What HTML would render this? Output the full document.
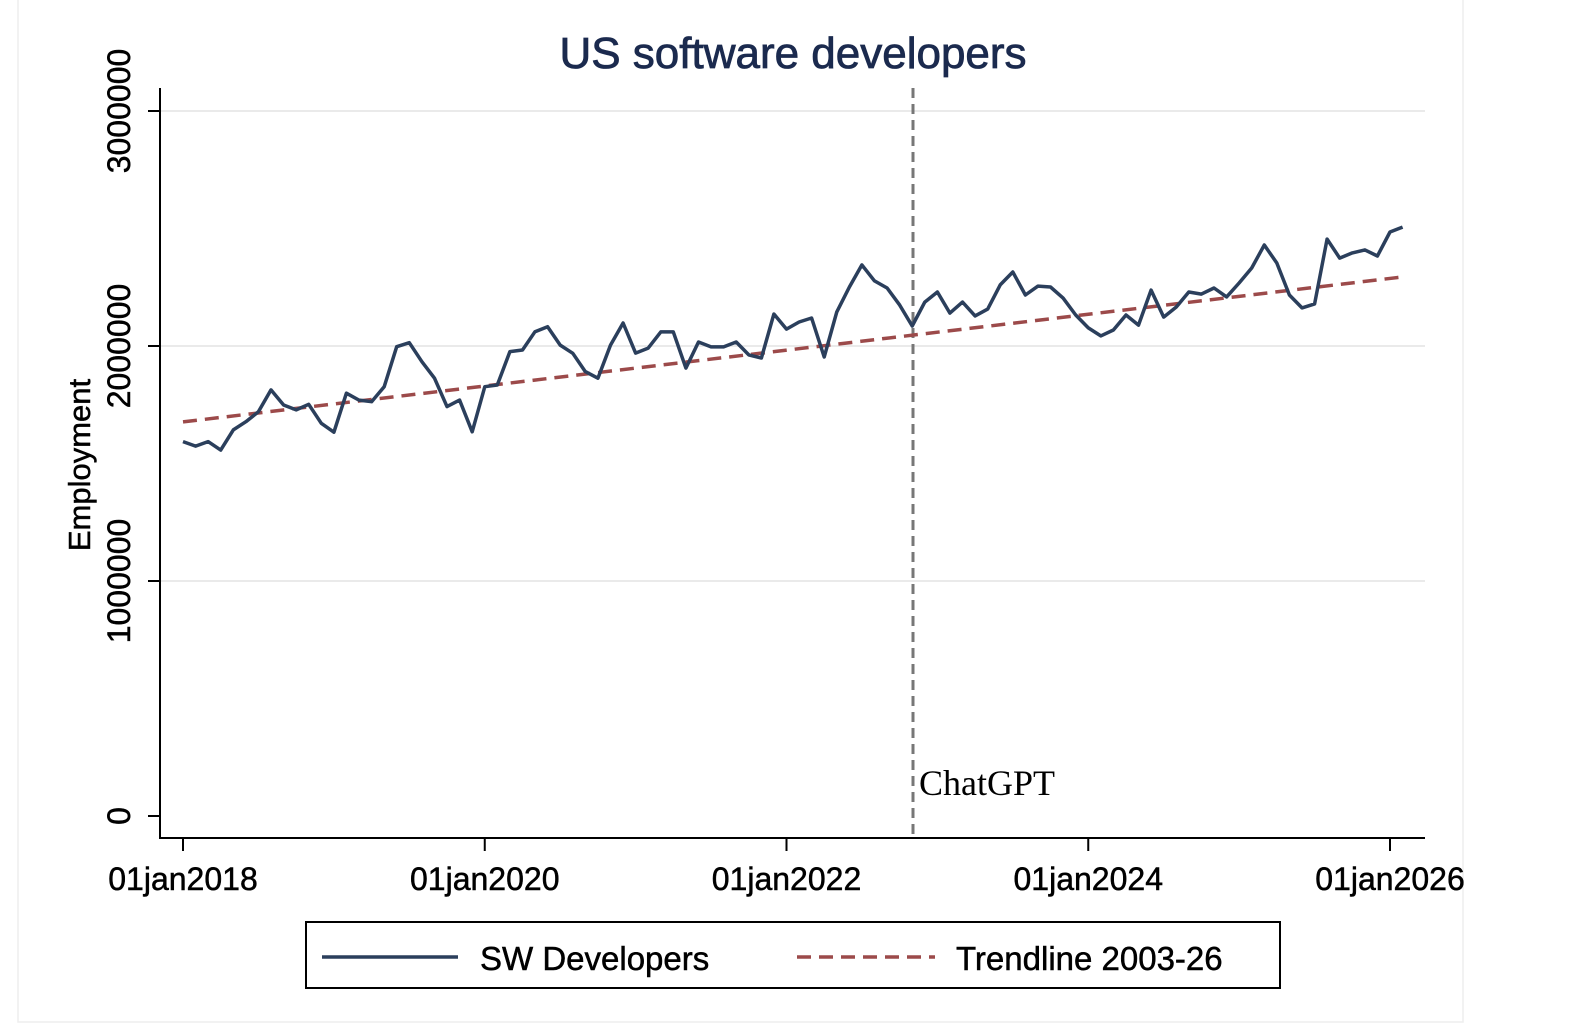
<!DOCTYPE html>
<html><head><meta charset="utf-8"><style>
html,body{margin:0;padding:0;background:#fff;}
svg{display:block;font-family:"Liberation Sans",sans-serif;}
.hv{stroke:currentColor;stroke-width:0.7;}
</style></head><body>
<svg id="chart" width="1574" height="1024" viewBox="0 0 1574 1024">
<rect x="18" y="-2" width="1445" height="1024" fill="#fff" stroke="#eeeeee" stroke-width="1.5"/>
<text x="793" y="68" text-anchor="middle" font-size="44" fill="#1b2a4e" stroke="#1b2a4e" stroke-width="0.8">US software developers</text>
<g id="grid"></g>
<line x1="160" y1="88" x2="160" y2="839" stroke="#000" stroke-width="2"/>
<line x1="159" y1="838" x2="1425" y2="838" stroke="#000" stroke-width="2"/>
<text transform="translate(90,465) rotate(-90)" text-anchor="middle" font-size="31" fill="#000" stroke="#000" stroke-width="0.5">Employment</text>
<g id="yticks"></g><g id="xticks"></g>
<line x1="913" y1="88" x2="913" y2="838" stroke="#777" stroke-width="3" stroke-dasharray="10,6"/>
<text x="919" y="795" font-family="'Liberation Serif',serif" font-size="36" fill="#000">ChatGPT</text>
<g id="series"></g>
<g>
<rect x="306" y="922" width="974" height="66" fill="#fff" stroke="#000" stroke-width="2"/>
<line x1="322" y1="957" x2="458" y2="957" stroke="#2b3f5c" stroke-width="3.5"/>
<text x="480" y="970" font-size="33" fill="#000" stroke="#000" stroke-width="0.5">SW Developers</text>
<line x1="797" y1="957" x2="935" y2="957" stroke="#9c4a4a" stroke-width="3.5" stroke-dasharray="14,8"/>
<text x="956" y="970" font-size="33" fill="#000" stroke="#000" stroke-width="0.5">Trendline 2003-26</text>
</g>
</svg>
<script>
const startYear = 2018;
const swValues = [1593,1574,1593,1557,1643,1678,1720,1813,1749,1728,1752,1671,1633,1799,1770,1763,1827,1997,2014,1933,1863,1742,1770,1635,1827,1834,1976,1983,2061,2082,2004,1969,1891,1863,2004,2098,1970,1991,2060,2060,1906,2017,1996,1996,2017,1962,1949,2136,2072,2102,2119,1953,2145,2251,2345,2277,2247,2174,2085,2187,2230,2140,2187,2128,2157,2260,2315,2217,2255,2251,2204,2132,2077,2043,2068,2132,2089,2238,2123,2166,2230,2221,2247,2209,2268,2332,2430,2353,2217,2162,2179,2455,2374,2396,2409,2383,2485,2506];
const trendStart = 1677;
const trendEnd = 2294;
const yTicks = [0,1000000,2000000,3000000];
const yTickLabels = ["0","1000000","2000000","3000000"];
const xTickYears = [2018,2020,2022,2024,2026];
const xTickLabels = ["01jan2018","01jan2020","01jan2022","01jan2024","01jan2026"];

const NS="http://www.w3.org/2000/svg";
function xScale(monthIdx){return 183 + monthIdx*(1390-183)/96;}
function yScale(v){return 816 - v*(816-111)/3000000;}
function mk(t,a,parent){const e=document.createElementNS(NS,t);for(const k in a)e.setAttribute(k,a[k]);parent.appendChild(e);return e;}
const grid=document.getElementById('grid'),yt=document.getElementById('yticks'),xt=document.getElementById('xticks'),ser=document.getElementById('series');
yTicks.forEach((v,i)=>{
  const y=yScale(v);
  if(v>0){const g=mk('line',{x1:161,x2:1425,y1:y,y2:y,stroke:'#eaeaea','stroke-width':2},grid);
  
  }
  const t=mk('line',{x1:148,x2:160,y1:y,y2:y,stroke:'#000','stroke-width':2},yt);
  
  
  const l=mk('text',{transform:`translate(130,${y}) rotate(-90)`,'text-anchor':'middle','font-size':32,fill:'#000',stroke:'#000','stroke-width':0.5},yt);
  l.textContent=yTickLabels[i];
  
  
});
xTickYears.forEach((yr,i)=>{
  const x=xScale((yr-startYear)*12);
  const t=mk('line',{x1:x,x2:x,y1:838,y2:851,stroke:'#000','stroke-width':2},xt);
  
  
  const l=mk('text',{x:x,y:890,'text-anchor':'middle','font-size':32,fill:'#000',stroke:'#000','stroke-width':0.5},xt);
  l.textContent=xTickLabels[i];
  
  
});
const n=swValues.length;
const tr=mk('line',{x1:xScale(0),y1:yScale(trendStart*1000),x2:xScale(n-1),y2:yScale(trendEnd*1000),stroke:'#9c4a4a','stroke-width':3.5,'stroke-dasharray':'14,8'},ser);


const pts=swValues.map((v,i)=>xScale(i).toFixed(1)+','+yScale(v*1000).toFixed(1)).join(' ');
const pl=mk('polyline',{points:pts,fill:'none',stroke:'#2b3f5c','stroke-width':3.5,'stroke-linejoin':'round'},ser);


</script>
</body></html>
